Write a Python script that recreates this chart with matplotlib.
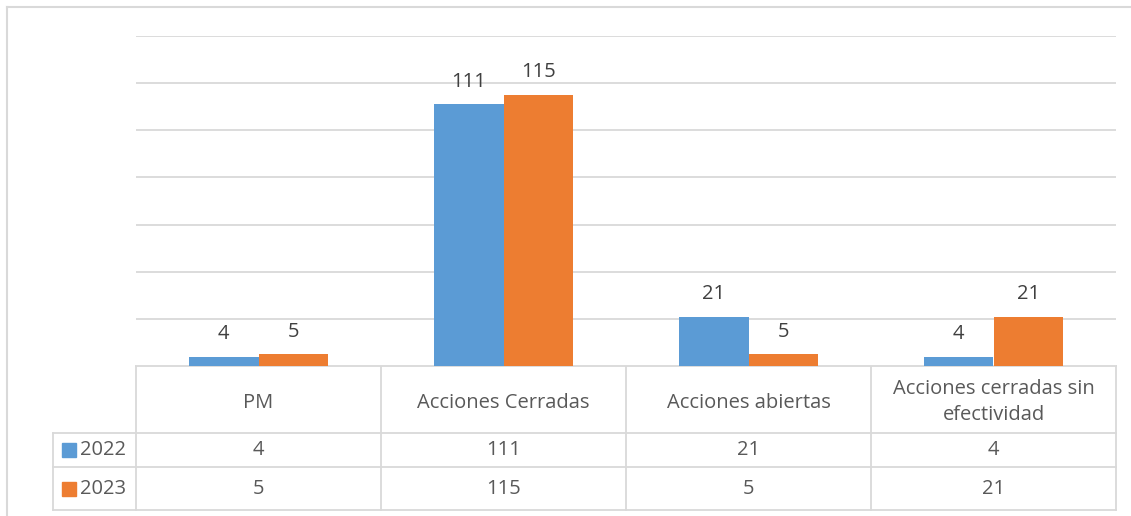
import matplotlib
matplotlib.use('Agg')
import matplotlib.pyplot as plt
import numpy as np

plt.rcParams['font.family'] = ['Open Sans', 'DejaVu Sans']

categories = ['PM', 'Acciones Cerradas', 'Acciones abiertas', 'Acciones cerradas sin\nefectividad']
series = ['2022', '2023']
values_2022 = [4, 111, 21, 4]
values_2023 = [5, 115, 5, 21]
colors = ['#5B9BD5', '#ED7D31']

W, H = 1131, 516
fig = plt.figure(figsize=(W / 100, H / 100), dpi=100)

# plot area in pixel coords
px_l, px_r, px_t, px_b = 136, 1116, 36, 366
ax = fig.add_axes([px_l / W, 1 - px_b / H, (px_r - px_l) / W, (px_b - px_t) / H])

x = np.arange(len(categories))
w = 0.2857
b1 = ax.bar(x - w / 2, values_2022, w, color=colors[0], zorder=3)
b2 = ax.bar(x + w / 2, values_2023, w, color=colors[1], zorder=3)
for bars in (b1, b2):
    ax.bar_label(bars, padding=9, fontsize=14.5, color='#404040')

ax.set_xlim(-0.5, len(categories) - 0.5)
ax.set_ylim(0, 140)
ax.set_yticks(np.arange(0, 141, 20))
ax.yaxis.grid(True, color='#d9d9d9', linewidth=1.3, zorder=0)
ax.set_xticks([])
ax.tick_params(left=False, labelleft=False)
for s in ax.spines.values():
    s.set_visible(False)

# data table drawn on an overlay axes in pixel coords
tab = fig.add_axes([0, 0, 1, 1], zorder=-1)
tab.set_xlim(0, W)
tab.set_ylim(H, 0)
tab.axis('off')

lc = '#d9d9d9'
lw = 1.3
row_y = [366, 433, 467, 510]
lab_l = 53
cell_w = (px_r - px_l) / len(categories)
cols_x = [px_l + i * cell_w for i in range(len(categories) + 1)]

# horizontal lines
tab.plot([px_l, px_r], [row_y[0]] * 2, color=lc, lw=lw)
for yy in row_y[1:]:
    tab.plot([lab_l, px_r], [yy] * 2, color=lc, lw=lw)
# vertical lines
for xx in cols_x:
    tab.plot([xx, xx], [row_y[0], row_y[-1]], color=lc, lw=lw)
tab.plot([lab_l, lab_l], [row_y[1], row_y[-1]], color=lc, lw=lw)

# chart border
tab.plot([7, 7], [7, H], color=lc, lw=1.5)
tab.plot([7, W], [7, 7], color=lc, lw=1.5)

txt = '#595959'
fs = 14.5
for i, cat in enumerate(categories):
    cx = (cols_x[i] + cols_x[i + 1]) / 2
    tab.text(cx, (row_y[0] + row_y[1]) / 2 + 3, cat, ha='center', va='center',
             fontsize=fs, color=txt, linespacing=1.4)
    tab.text(cx, (row_y[1] + row_y[2]) / 2, str(values_2022[i]), ha='center',
             va='center', fontsize=fs, color=txt)
    tab.text(cx, (row_y[2] + row_y[3]) / 2, str(values_2023[i]), ha='center',
             va='center', fontsize=fs, color=txt)

for j, name in enumerate(series):
    yc = (row_y[j + 1] + row_y[j + 2]) / 2
    tab.add_patch(plt.Rectangle((62, yc - 7), 14, 14, color=colors[j]))
    tab.text(80, yc, name, ha='left', va='center', fontsize=fs, color=txt)

fig.savefig('out.png', dpi=100, facecolor='white')
